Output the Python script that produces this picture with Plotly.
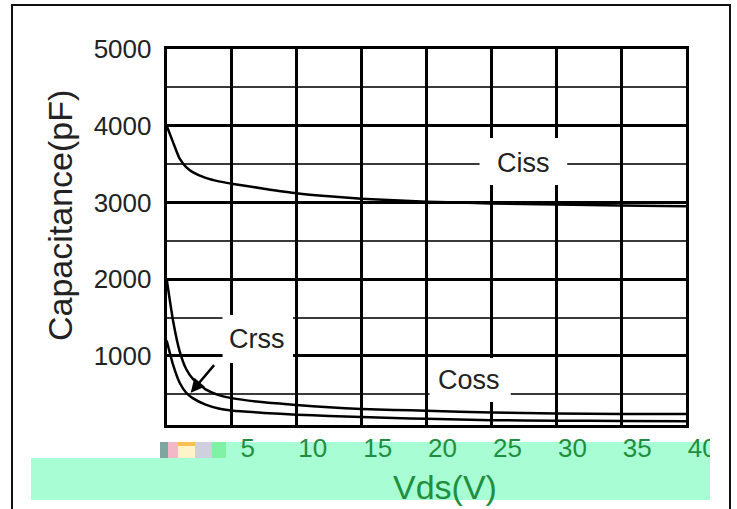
import plotly.graph_objects as go

# ---------------- data ----------------
vds = [0, 0.5, 1, 1.5, 2, 3, 4, 5, 7.5, 10, 12.5, 15, 17.5, 20, 25, 30, 35, 40]
ciss = [4000, 3780, 3570, 3460, 3395, 3320, 3275, 3245, 3180, 3120, 3080, 3050, 3030, 3010, 2988, 2972, 2960, 2950]
coss = [2000, 1450, 1060, 830, 705, 565, 490, 450, 395, 360, 330, 310, 297, 285, 262, 250, 243, 242]
crss = [1200, 880, 650, 520, 450, 365, 315, 290, 258, 235, 218, 205, 192, 180, 163, 156, 152, 150]

x_ticks = [0, 5, 10, 15, 20, 25, 30, 35, 40]
x_tick_labels = ["5", "10", "15", "20", "25", "30", "35", "40"]   # visible green labels
x_label_vals = [5, 10, 15, 20, 25, 30, 35, 40]
y_ticks = [1000, 2000, 3000, 4000, 5000]
y_tick_labels = ["1000", "2000", "3000", "4000", "5000"]
y_minor = [500, 1500, 2500, 3500, 4500]

W, H = 737, 509
def px(x): return x / W
def py(y): return 1 - y / H

FONT = "Liberation Sans, Arial, sans-serif"
TXT = "#222222"
GREEN = "#1f8f3f"
MINT = "#a8fdd4"

fig = go.Figure()
for name, ys in [("Ciss", ciss), ("Coss", coss), ("Crss", crss)]:
    fig.add_trace(go.Scatter(x=vds, y=ys, mode="lines", name=name,
                             line=dict(color="black", width=2.5, shape="spline", smoothing=0.6),
                             showlegend=False, hoverinfo="skip"))

# green tick labels drawn through an overlay axis (clipped at strip end)
x2max = 40 * (710 - 166.7) / (686 - 166.7)
fig.add_trace(go.Scatter(x=[v + 1.25 for v in x_label_vals], y=[0.5] * len(x_label_vals),
                         text=x_tick_labels, mode="text", xaxis="x2", yaxis="y2",
                         textfont=dict(family=FONT, size=26, color=GREEN),
                         cliponaxis=True, showlegend=False, hoverinfo="skip"))

fig.update_layout(
    width=W, height=H, margin=dict(l=0, r=0, t=0, b=0, autoexpand=False),
    paper_bgcolor="white", plot_bgcolor="rgba(0,0,0,0)",
    xaxis=dict(domain=[px(166.7), px(686)], range=[0, 40], tickvals=x_ticks,
               showticklabels=False, showgrid=True, gridcolor="black", gridwidth=3,
               zeroline=False, showline=True, mirror=True, linecolor="black", linewidth=3,
               ticks="", automargin=False),
    yaxis=dict(domain=[py(425), py(49)], range=[100, 5000], tickvals=y_ticks,
               ticktext=y_tick_labels, showgrid=True, gridcolor="black", gridwidth=3,
               minor=dict(tickvals=y_minor, showgrid=True, gridcolor="#3a3a3a", gridwidth=1.6),
               zeroline=False, showline=True, mirror=True, linecolor="black", linewidth=3,
               ticks="", ticklabelstandoff=7, automargin=False,
               tickfont=dict(family=FONT, size=26, color=TXT)),
    xaxis2=dict(domain=[px(166.7), px(710)], range=[0, x2max], visible=False,
                anchor="y2", showgrid=False, zeroline=False, automargin=False),
    yaxis2=dict(domain=[py(463), py(438)], range=[0, 1], visible=False,
                anchor="x2", showgrid=False, zeroline=False, automargin=False),
)

shapes = []
# outer frame
shapes.append(dict(type="rect", xref="paper", yref="paper", x0=px(12), x1=px(730),
                   y0=py(520), y1=py(5), line=dict(color="#111", width=2), layer="below"))
# mint cover strips
shapes.append(dict(type="rect", xref="paper", yref="paper", x0=px(31), x1=px(710),
                   y0=py(500), y1=py(458), fillcolor=MINT, line_width=0, layer="below"))
shapes.append(dict(type="rect", xref="paper", yref="paper", x0=px(226), x1=px(710),
                   y0=py(458), y1=py(442), fillcolor=MINT, line_width=0, layer="below"))
# scan artefacts at the left of the strip
for x0, x1, col in [(160, 168, "#7fa5a0"), (168, 178, "#f2b8c8"), (178, 195, "#fff4c8"),
                    (195, 212, "#cfcfe0"), (212, 226, "#7ff2a5")]:
    shapes.append(dict(type="rect", xref="paper", yref="paper", x0=px(x0), x1=px(x1),
                       y0=py(458), y1=py(442), fillcolor=col, line_width=0, layer="below"))
shapes.append(dict(type="rect", xref="paper", yref="paper", x0=px(178), x1=px(195),
                   y0=py(446), y1=py(442), fillcolor="#f7c050", line_width=0, layer="below"))
# white boxes behind curve labels (break grid lines)
for x0, x1, y0, y1 in [(24.1, 30.85, 3228, 3840), (4.3, 9.73, 909, 1534), (20.25, 26.5, 401, 974)]:
    shapes.append(dict(type="rect", xref="x", yref="y", x0=x0, x1=x1, y0=y0, y1=y1,
                       fillcolor="white", line_width=0, layer="above"))
fig.update_layout(shapes=shapes)

ann = []
for t, x, y in [("Ciss", 27.5, 3520), ("Crss", 6.95, 1215), ("Coss", 23.3, 690)]:
    ann.append(dict(text=t, x=x, y=y, xref="x", yref="y", showarrow=False,
                    xanchor="center", yanchor="middle",
                    font=dict(family=FONT, size=27, color=TXT)))
# arrow from Crss label to curve
ann.append(dict(text="", x=1.85, y=520, ax=3.75, ay=900, xref="x", yref="y",
                axref="x", ayref="y", showarrow=True, arrowhead=2, arrowsize=1.1,
                arrowwidth=2.5, arrowcolor="black"))
ann.append(dict(text="Capacitance(pF)", x=px(60), y=py(216), xref="paper", yref="paper",
                xanchor="center", yanchor="middle",
                textangle=-90, showarrow=False, font=dict(family=FONT, size=34, color=TXT)))
ann.append(dict(text="Vds(V)", x=px(445), y=py(487), xref="paper", yref="paper",
                xanchor="center", yanchor="middle",
                showarrow=False, font=dict(family=FONT, size=34, color=GREEN)))
fig.update_layout(annotations=ann)

fig.write_html("out.html")
